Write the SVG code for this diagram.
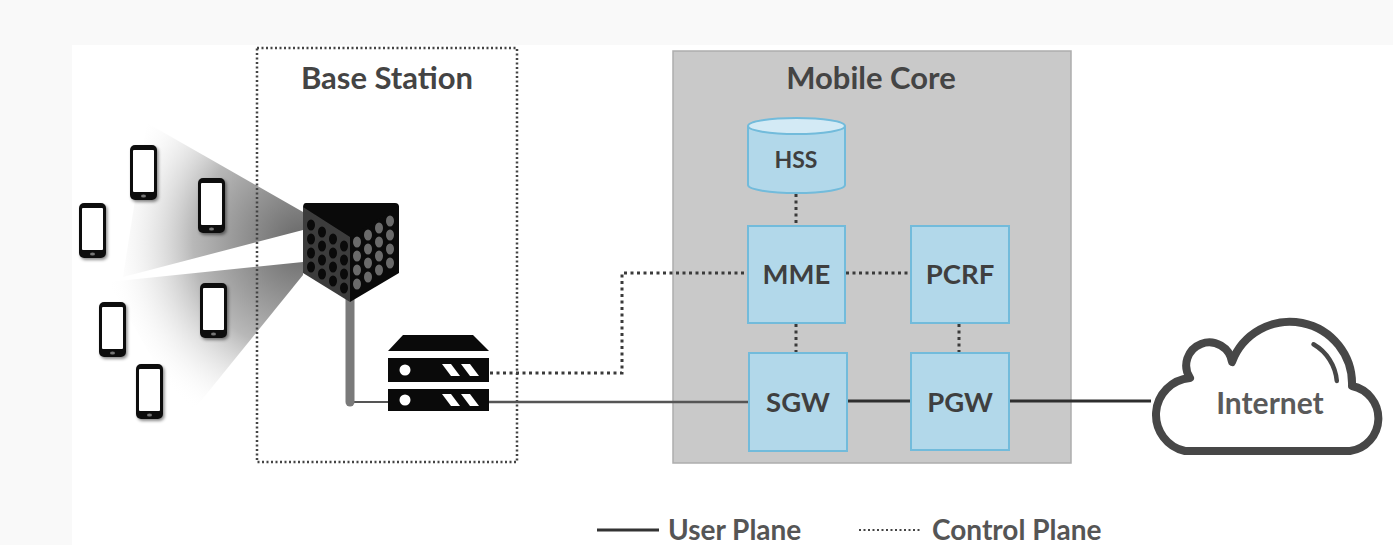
<svg xmlns="http://www.w3.org/2000/svg" width="1393" height="545" viewBox="0 0 1393 545">
  <style>
    .title { font-family: Lato, "Liberation Sans", sans-serif; font-weight: 700; font-size: 31px; fill: #444; text-anchor: middle; }
    .label { font-family: Lato, "Liberation Sans", sans-serif; font-weight: 700; font-size: 27.5px; fill: #3f3f3f; text-anchor: middle; }
    .legend { font-family: Lato, "Liberation Sans", sans-serif; font-weight: 700; font-size: 28px; fill: #555; }
    .node { fill: #b2d8ea; stroke: #72bbdb; stroke-width: 2; }
    .ctrl { fill: none; stroke: #3a3a3a; stroke-width: 3; stroke-dasharray: 3 3.5; }
    .user { fill: none; stroke: #2e2e2e; stroke-width: 3; }
    .phone-body { fill: #111; }
    .phone-screen { fill: #fff; }
  </style>
  <defs>
    <radialGradient id="beam" gradientUnits="userSpaceOnUse" cx="303" cy="242" r="200">
      <stop offset="0" stop-color="#666"/>
      <stop offset="0.55" stop-color="#b8b8b8"/>
      <stop offset="1" stop-color="#ffffff" stop-opacity="0"/>
    </radialGradient>
    <filter id="shadow" x="-30%" y="-20%" width="160%" height="140%">
      <feDropShadow dx="1.5" dy="2" stdDeviation="1.5" flood-color="#000" flood-opacity="0.45"/>
    </filter>
    <g id="phone">
      <rect class="phone-body" x="0" y="0" width="27" height="55" rx="5"/>
      <rect class="phone-screen" x="3" y="5" width="21" height="42" rx="1"/>
      <ellipse cx="13.5" cy="51" rx="2.5" ry="1.6" fill="#777"/>
    </g>
  </defs>

  <!-- page background -->
  <rect x="0" y="0" width="1393" height="545" fill="#f9f9f9"/>
  <rect x="72" y="45" width="1321" height="500" fill="#ffffff"/>

  <!-- radio beams -->
  <g id="beams">
    <polygon points="303,212 147,123 123,277 303,230" fill="url(#beam)"/>
    <polygon points="303,262 108,282 187,418 303,275" fill="url(#beam)"/>
  </g>

  <!-- handsets -->
  <g id="phones" filter="url(#shadow)">
    <use href="#phone" x="130" y="145"/>
    <use href="#phone" x="198" y="178"/>
    <use href="#phone" x="79" y="203"/>
    <use href="#phone" x="200" y="283"/>
    <use href="#phone" x="99" y="302"/>
    <use href="#phone" x="136" y="364"/>
  </g>

  <!-- base station enclosure -->
  <g id="base-station">
    <rect x="257" y="48" width="260" height="414" fill="none" stroke="#444" stroke-width="2.5" stroke-dasharray="2 2.5"/>
    <text class="title" x="387" y="89">Base Station</text>
  </g>

  <!-- mobile core enclosure -->
  <g id="mobile-core">
    <rect x="673" y="51" width="398" height="412" fill="#c9c9c9" stroke="#adadad" stroke-width="1.5"/>
    <text class="title" x="871" y="89">Mobile Core</text>
  </g>

  <!-- connectors -->
  <g id="connectors">
    <!-- control plane -->
    <path class="ctrl" d="M796,194 V226"/>
    <path class="ctrl" d="M846,273 H911"/>
    <path class="ctrl" d="M796,324 V353"/>
    <path class="ctrl" d="M959,324 V353"/>
    <path class="ctrl" d="M490,373 H622 V273 H748" stroke="#555" stroke-width="2.5"/>
    <!-- user plane -->
    <path d="M350,402 H389" fill="none" stroke="#555" stroke-width="2"/>
    <path d="M489,402 H749" fill="none" stroke="#555" stroke-width="2.5"/>
    <path class="user" d="M847,401 H911"/>
    <path class="user" d="M1009,401 H1151"/>
  </g>

  <!-- antenna tower -->
  <g id="antenna">
    <line x1="350" y1="295" x2="350" y2="402" stroke="#7a7a7a" stroke-width="9" stroke-linecap="round"/>
    <!-- top face -->
    <path d="M306,203 H395 Q399,203 399,207 L350,238 L303,208 Q303,203 306,203 Z" fill="#0a0a0a"/>
    <!-- left face -->
    <polygon points="303,207 350,237 350,302 303,273" fill="#3c3c3c"/>
    <!-- right face -->
    <polygon points="350,237 399,206 399,273 350,302" fill="#0a0a0a"/>
    <g fill="#0a0a0a">
      <ellipse cx="311" cy="225" rx="4" ry="5.5"/>
      <ellipse cx="311" cy="239" rx="4" ry="5.5"/>
      <ellipse cx="311" cy="253" rx="4" ry="5.5"/>
      <ellipse cx="311" cy="267" rx="4" ry="5.5"/>
      <ellipse cx="322" cy="232" rx="4" ry="5.5"/>
      <ellipse cx="322" cy="246" rx="4" ry="5.5"/>
      <ellipse cx="322" cy="260" rx="4" ry="5.5"/>
      <ellipse cx="322" cy="274" rx="4" ry="5.5"/>
      <ellipse cx="333" cy="239" rx="4" ry="5.5"/>
      <ellipse cx="333" cy="253" rx="4" ry="5.5"/>
      <ellipse cx="333" cy="267" rx="4" ry="5.5"/>
      <ellipse cx="333" cy="281" rx="4" ry="5.5"/>
      <ellipse cx="344" cy="246" rx="4" ry="5.5"/>
      <ellipse cx="344" cy="260" rx="4" ry="5.5"/>
      <ellipse cx="344" cy="274" rx="4" ry="5.5"/>
      <ellipse cx="344" cy="288" rx="4" ry="5.5"/>
    </g>
    <g fill="#6a6a6a">
      <ellipse cx="357" cy="242" rx="4" ry="5.5"/>
      <ellipse cx="357" cy="256" rx="4" ry="5.5"/>
      <ellipse cx="357" cy="270" rx="4" ry="5.5"/>
      <ellipse cx="357" cy="284" rx="4" ry="5.5"/>
      <ellipse cx="368" cy="235" rx="4" ry="5.5"/>
      <ellipse cx="368" cy="249" rx="4" ry="5.5"/>
      <ellipse cx="368" cy="263" rx="4" ry="5.5"/>
      <ellipse cx="368" cy="277" rx="4" ry="5.5"/>
      <ellipse cx="379" cy="228" rx="4" ry="5.5"/>
      <ellipse cx="379" cy="242" rx="4" ry="5.5"/>
      <ellipse cx="379" cy="256" rx="4" ry="5.5"/>
      <ellipse cx="379" cy="270" rx="4" ry="5.5"/>
      <ellipse cx="390" cy="221" rx="4" ry="5.5"/>
      <ellipse cx="390" cy="235" rx="4" ry="5.5"/>
      <ellipse cx="390" cy="249" rx="4" ry="5.5"/>
      <ellipse cx="390" cy="263" rx="4" ry="5.5"/>
    </g>
  </g>

  <!-- baseband unit -->
  <g id="bbu">
    <polygon points="403,335 473,335 489,351 388,351" fill="#0a0a0a"/>
    <rect x="388" y="358" width="101" height="24" fill="#0a0a0a"/>
    <rect x="388" y="389" width="101" height="22" fill="#0a0a0a"/>
    <g fill="#ffffff">
      <circle cx="405" cy="370" r="5.5"/>
      <circle cx="405" cy="400" r="5.5"/>
      <polygon points="442,364 451,364 460,376 451,376"/>
      <polygon points="461,364 470,364 479,376 470,376"/>
      <polygon points="442,394 451,394 460,406 451,406"/>
      <polygon points="461,394 470,394 479,406 470,406"/>
    </g>
  </g>

  <!-- core functions -->
  <g id="hss">
    <path class="node" d="M748,126 V185 A48.5,8 0 0 0 845,185 V126"/>
    <ellipse cx="796.5" cy="126" rx="48.5" ry="8" fill="#d3eaf5" stroke="#72bbdb" stroke-width="2"/>
    <text class="label" x="796" y="168" style="font-size:23px">HSS</text>
  </g>
  <g id="mme">
    <rect class="node" x="748" y="226" width="97" height="97"/>
    <text class="label" x="796.5" y="284">MME</text>
  </g>
  <g id="pcrf">
    <rect class="node" x="911" y="226" width="98" height="97"/>
    <text class="label" x="960" y="284">PCRF</text>
  </g>
  <g id="sgw">
    <rect class="node" x="749" y="353" width="98" height="98"/>
    <text class="label" x="798" y="412">SGW</text>
  </g>
  <g id="pgw">
    <rect class="node" x="911" y="353" width="98" height="97"/>
    <text class="label" x="960" y="412">PGW</text>
  </g>

  <!-- internet cloud -->
  <g id="internet">
    <path d="M1185,451 H1350 A33,33 0 0 0 1352,386 A62,62 0 0 0 1232,362 A23,23 0 1 0 1190,378 A37,37 0 0 0 1185,451 Z" fill="#ffffff" stroke="#474747" stroke-width="8" stroke-linejoin="round"/>
    <path d="M1313.5,344.3 A47,47 0 0 1 1336.8,380.9" fill="none" stroke="#474747" stroke-width="4.5" stroke-linecap="round"/>
    <text class="label" x="1270" y="414" style="fill:#5a5a5a;font-size:30px">Internet</text>
  </g>

  <!-- legend -->
  <g id="legend">
    <line x1="597" y1="530" x2="659" y2="530" stroke="#333" stroke-width="3"/>
    <text class="legend" x="668" y="540">User Plane</text>
    <line x1="859" y1="530" x2="922" y2="530" stroke="#444" stroke-width="2" stroke-dasharray="2 2.5"/>
    <text class="legend" x="932" y="540">Control Plane</text>
  </g>
</svg>
